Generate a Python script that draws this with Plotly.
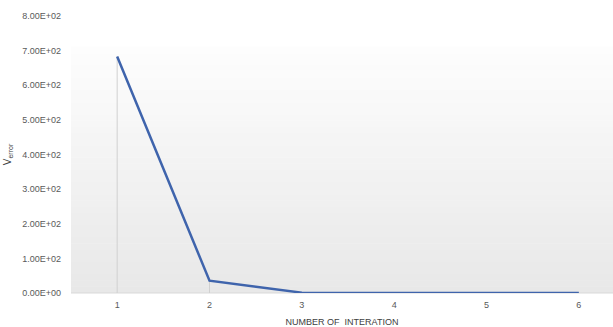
import plotly.graph_objects as go

iterations = [1, 2, 3, 4, 5, 6]
v_error = [683, 35.5, 1.0, 0.5, 0.2, 0.1]
y_ticks = [0, 100, 200, 300, 400, 500, 600, 700, 800]
y_tick_labels = ["0.00E+00", "1.00E+02", "2.00E+02", "3.00E+02", "4.00E+02",
                 "5.00E+02", "6.00E+02", "7.00E+02", "8.00E+02"]

fig = go.Figure()

# gradient plot background (white at top -> light grey at bottom)
n = 40
top_frac = 0.888
shapes = []
for i in range(n):
    f0 = top_frac * i / n
    f1 = top_frac * (i + 1) / n
    t = i / (n - 1)  # 0 bottom, 1 top
    g = int(round(232 + (253 - 232) * t))
    shapes.append(dict(type="rect", xref="paper", yref="paper", x0=0, x1=1,
                       y0=f0, y1=f1 + 0.002, fillcolor=f"rgb({g},{g},{g})",
                       line=dict(width=0), layer="below"))
shapes.append(dict(type="line", xref="paper", yref="paper", x0=0, x1=1, y0=0, y1=0,
                   line=dict(color="#d9d9d9", width=1), layer="below"))

fig.add_trace(go.Scatter(
    x=iterations, y=v_error, mode="lines",
    line=dict(color="#3f64ac", width=2.5),
    error_y=dict(type="data", symmetric=False, array=[0] * len(v_error),
                 arrayminus=v_error, width=0, color="#d0d0d0", thickness=1),
    showlegend=False, hoverinfo="skip",
))

fig.update_layout(
    width=613, height=327,
    margin=dict(l=71, r=0, t=16, b=34),
    paper_bgcolor="white", plot_bgcolor="rgba(0,0,0,0)",
    shapes=shapes,
    font=dict(family="Liberation Sans, Arial", size=9, color="#595959"),
    xaxis=dict(range=[0.5, 6.37], tickvals=iterations, ticktext=[str(i) for i in iterations],
               showgrid=False, zeroline=False, showline=False, ticks="",
               automargin=False, ticklabelstandoff=5,
               title=dict(text="NUMBER OF  INTERATION", standoff=9,
                          font=dict(size=9, color="#404040"))),
    yaxis=dict(range=[0, 800], tickvals=y_ticks, ticktext=y_tick_labels,
               showgrid=False, zeroline=False, showline=False, ticks="",
               ticklabelstandoff=9, automargin=False,
               title=dict(text="V<sub>error</sub>", standoff=8,
                          font=dict(size=10, color="#404040"))),
)

fig.write_html("out.html", config={"displayModeBar": False},
               post_script="document.body.style.margin='0';document.body.style.overflow='hidden';")
